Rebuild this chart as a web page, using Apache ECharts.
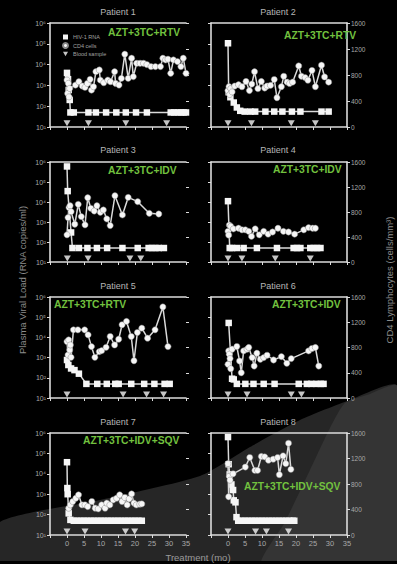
<!DOCTYPE html>
<html><head><meta charset="utf-8">
<script src="https://cdn.jsdelivr.net/npm/echarts@6/dist/echarts.min.js"></script>
<style>html,body{margin:0;padding:0;background:#000}#c{width:397px;height:564px}</style>
</head><body><div id="c"></div>
<script>
// ---------------- DATA ----------------
const patientTitles = ['Patient 1','Patient 2','Patient 3','Patient 4','Patient 5','Patient 6','Patient 7','Patient 8'];
const regimens = ['AZT+3TC+RTV','AZT+3TC+RTV','AZT+3TC+IDV','AZT+3TC+IDV','AZT+3TC+RTV','AZT+3TC+IDV','AZT+3TC+IDV+SQV','AZT+3TC+IDV+SQV'];
const legendNames = ['HIV-1 RNA','CD4 cells','Blood sample'];
const xTitle = 'Treatment (mo)';
const yLeftTitle = 'Plasma Viral Load (RNA copies/ml)';
const yRightTitle = 'CD4 Lymphocytes (cells/mm\u00B3)';
const monthTicks = [-5,0,5,10,15,20,25,30,35];
const rnaTicks = [10,100,1000,10000,100000,1000000];
const cd4Ticks = [0,400,800,1200,1600];

// HIV-1 RNA (copies/ml) [month, value]
const rnaP1 = [[0,4000],[0.3,2000],[0.5,600],[0.8,200],[1,50],[2,50],[6.3,50],[8.5,50],[11.5,50],[14.5,50],[17.3,50],[20.3,50],[23.5,50],[30.5,50],[31.5,50],[32.5,50],[33.5,50],[34.3,50],[35,50]];
const rnaP2 = [[0,106000],[0.2,470],[0.7,270],[1.7,150],[2.6,87],[3.6,60],[4.9,55],[6.6,55],[8,55],[11,55],[13.6,55],[16,55],[18.8,55],[21.3,55],[27.5,55],[29.6,55]];
const rnaP3 = [[0,600000],[0.2,35000],[1.2,300],[1.6,50],[3.5,50],[6,50],[8.8,50],[11.8,50],[16.3,50],[20.8,50],[24,50],[25,50],[26,50],[27,50],[28.5,50]];
const rnaP4 = [[0,11000],[0.5,50],[1.2,50],[2.6,50],[4.6,50],[8.5,50],[14.4,50],[19.3,50],[20.3,50],[21.3,50],[24.2,50],[25.2,50],[26.2,50],[27.2,50]];
const rnaP5 = [[0,760],[0.4,430],[1.2,290],[2.2,240],[3.5,160],[5.7,50],[8.9,50],[11.7,50],[14.2,50],[15.2,50],[18.9,50],[22.7,50],[25.7,50],[28.7,50],[30.2,50]];
const rnaP6 = [[0.2,52000],[1.2,90],[1.7,83],[2.6,50],[5.1,50],[7.5,50],[10.5,50],[13.7,50],[20.8,50],[23.2,50],[24.5,50],[26,50],[27.3,50],[28.1,50]];
const rnaP7 = [[0,37000],[0.1,2000],[0.2,1000],[0.5,115],[1,55],[2,50],[3,50],[4,50],[5,50],[6,50],[7,50],[8,50],[9,50],[10,50],[11,50],[12,50],[13,50],[14,50],[15,50],[16,50],[17,50],[18,50],[19,50],[20,50],[21,50],[22,50]];
const rnaP8 = [[0,630000],[0.2,29500],[0.5,9300],[1,3000],[1.5,1600],[1.7,500],[2.2,400],[2.5,75],[3,50],[4,50],[5,50],[6,50],[7,50],[8,50],[9,50],[10,50],[11,50],[12,50],[13,50],[14,50],[15,50],[16,50],[17,50],[18,50],[19,50],[19.5,50]];

// CD4 cells (cells/mm3) [month, value]
const cd4P1 = [[0,722],[0.2,516],[0.4,671],[0.6,464],[0.8,593],[2.5,645],[3.5,697],[4.5,630],[5.3,609],[6,670],[6.8,733],[7.2,567],[7.8,619],[8.5,851],[9.5,877],[9.8,722],[10.8,681],[12,722],[12.8,697],[14,851],[14.3,670],[15.3,645],[16,748],[17,1120],[18,748],[19,1058],[19.5,774],[20.5,980],[21.5,980],[22.5,980],[23.5,960],[24.7,929],[26,929],[27.5,929],[28.2,1058],[29,1032],[29.7,1043],[30.5,826],[31.3,1032],[32.5,1006],[33.5,929],[34.2,1058],[35,826]];
const cd4P2 = [[0,560],[0.3,620],[0.5,500],[0.8,590],[1.2,540],[2,630],[3.1,650],[4.1,620],[5.3,700],[6.3,560],[7,660],[7.8,850],[8.8,590],[9.8,700],[10.8,600],[11.5,630],[12.5,640],[13.6,730],[14.4,450],[15.7,620],[16.4,780],[17.4,690],[18.1,670],[19,690],[20.8,940],[21.6,780],[22.7,760],[23.5,720],[24.7,870],[25.7,620],[27.5,950],[28.4,770],[29.6,690]];
const cd4P3 = [[0,435],[0.3,710],[0.6,870],[0.9,900],[1.2,805],[2.3,604],[3.3,922],[4.2,726],[5.3,594],[6.1,1028],[7,859],[8,816],[8.8,900],[9.8,795],[10.7,832],[11.7,689],[12.7,583],[14.1,1060],[16.3,753],[18,1033],[20.8,965],[24.2,779],[27,768]];
const cd4P4 = [[0,490],[0.2,430],[0.4,590],[0.8,570],[1.6,530],[3.1,540],[4.1,515],[5.1,515],[6.1,490],[6.9,410],[8,530],[9.2,435],[10.5,490],[11.8,445],[13.1,480],[14.7,540],[16.3,490],[17.8,480],[19.6,445],[22.3,515],[23.7,550],[24.9,540],[25.7,540]];
const cd4P5 = [[0,894],[0.3,681],[0.5,920],[0.8,761],[1,840],[1.2,644],[1.9,1080],[3.2,1080],[5.2,1080],[6.2,1000],[7.2,814],[8.2,644],[9.5,734],[10.2,750],[11.5,803],[12.7,974],[14,840],[15.2,931],[16.2,1160],[17.5,1213],[18.9,974],[19.7,590],[20.7,1037],[22,1106],[23.7,947],[25.9,1080],[28.2,1442],[29.7,814]];
const cd4P6 = [[0,533],[0.2,746],[0.4,693],[0.6,624],[0.8,464],[1.2,773],[2.6,815],[3.4,586],[3.9,400],[4.6,746],[5.6,773],[6.1,800],[7.1,640],[7.7,506],[8.5,709],[9.5,613],[10.5,640],[11.5,677],[13.4,602],[15.7,656],[17.3,549],[18.6,624],[23.7,746],[24.7,784],[25.7,800],[26.7,506]];
const cd4P7 = [[0.5,420],[1,472],[1.7,525],[2.6,577],[3.4,630],[4.4,472],[5.3,472],[6.1,446],[7.3,525],[8.3,420],[9.2,410],[10.2,472],[11.2,420],[11.7,500],[12.6,472],[13.6,551],[14.6,577],[15.5,630],[16.2,525],[17,588],[17.7,472],[18.3,567],[19,645],[19.7,500],[20.4,472],[21.4,483],[22,488]];
const cd4P8 = [[0,1120],[0.2,600],[0.4,920],[0.6,860],[1.5,960],[5.1,1066],[6.4,1215],[7.9,1013],[8.7,1013],[9.8,1232],[10.8,1226],[11.9,1173],[13.3,1189],[14.6,1215],[15.1,946],[16.2,1242],[17,1119],[17.8,1439],[18.5,1029]];

// Blood sample months
const bloodP1 = [0,6.3,17.3,29.3];
const bloodP2 = [0,6.9,18.6,25.7];
const bloodP3 = [0.1,6.2,18.5,21.7];
const bloodP4 = [0,4.1,13.9,24.2];
const bloodP5 = [0,16.5,23.4,28.4];
const bloodP6 = [0,5.6,18.6,21.6];
const bloodP7 = [0,5.3,17.2,19.9];
const bloodP8 = [0,8.1,11.3,17.8];

// ---------------- LAYOUT / STYLE ----------------
const rnaAll = [rnaP1,rnaP2,rnaP3,rnaP4,rnaP5,rnaP6,rnaP7,rnaP8];
const cd4All = [cd4P1,cd4P2,cd4P3,cd4P4,cd4P5,cd4P6,cd4P7,cd4P8];
const bloodAll = [bloodP1,bloodP2,bloodP3,bloodP4,bloodP5,bloodP6,bloodP7,bloodP8];
const bloodLevel = 15;
const colLeft = [50, 211];
const gridW = 136;
const rowTop = [23, 162, 297, 433];
const rowH = [104, 100, 101, 102];
const titleX = [118, 278];
const titleY = [12, 150, 286, 422];
const regimenPos = [[108,32],[284,35],[108,170],[273,169],[54,304],[272,304],[83,440],[244,486]];
const FONT = '"Liberation Sans", Arial, sans-serif';
const AX = '#dcdcdc';
const sup = ['\u2070','\u00B9','\u00B2','\u00B3','\u2074','\u2075','\u2076'];

const grids = [], xAxes = [], yAxes = [], series = [], graphics = [];

// background shapes
graphics.push({type:'polygon', z:-20, silent:true,
  shape:{points:[[0,522],[100,500],[200,476],[250,447],[300,420],[350,400],[397,386],[397,564],[0,564]], smooth:0.2},
  style:{fill:'#262626'}});
graphics.push({type:'polygon', z:-19, silent:true,
  shape:{points:[[262,564],[285,522],[310,470],[330,428],[345,403],[370,394],[397,386],[397,564]], smooth:0.2},
  style:{fill:'#343434'}});
graphics.push({type:'rect', z:-18, silent:true, shape:{x:0,y:561,width:397,height:3}, style:{fill:'#000'}});

for (let i = 0; i < 8; i++) {
  const col = i % 2, row = Math.floor(i / 2);
  grids.push({left: colLeft[col], top: rowTop[row], width: gridW, height: rowH[row], containLabel:false});
  // bottom axis (index 2i)
  xAxes.push({gridIndex:i, type:'value', position:'bottom', min:monthTicks[0], max:monthTicks[monthTicks.length-1], interval:5,
    axisLine:{show:true, onZero:false, lineStyle:{color:AX, width:1.6}},
    axisTick:{show:true, length:3, lineStyle:{color:AX, width:1}},
    axisLabel:{show: row===3, color:'#a8a8a8', fontSize:7.5, fontFamily:FONT, margin:4,
      formatter: v => (v < 0 ? '' : String(v))},
    splitLine:{show:false}});
  // top frame line (index 2i+1)
  xAxes.push({gridIndex:i, type:'value', position:'top', min:monthTicks[0], max:monthTicks[monthTicks.length-1],
    axisLine:{show:true, onZero:false, lineStyle:{color:AX, width:1.6}}, axisTick:{show:false}, axisLabel:{show:false}, splitLine:{show:false}});
  yAxes.push({gridIndex:i, type:'log', logBase:10, min:rnaTicks[0], max:rnaTicks[rnaTicks.length-1], splitNumber:5, position:'left',
    axisLine:{show:true, onZero:false, lineStyle:{color:AX, width:1.6}},
    axisTick:{show:true, length:3, lineStyle:{color:AX, width:1}},
    axisLabel:{show: col===0, color:'#a8a8a8', fontSize:7, fontFamily:FONT, margin:4,
      formatter: v => '10' + sup[Math.round(Math.log10(v))]},
    splitLine:{show:false}, minorTick:{show:false}});
  yAxes.push({gridIndex:i, type:'value', min:cd4Ticks[0], max:cd4Ticks[cd4Ticks.length-1], interval:400, position:'right',
    axisLine:{show: col===1, onZero:false, lineStyle:{color:AX, width:1.6}},
    axisTick:{show:true, length:3, lineStyle:{color:AX, width:1}},
    axisLabel:{show: col===1, color:'#a8a8a8', fontSize:6.5, fontFamily:FONT, margin:4, formatter: v => String(v)},
    splitLine:{show:false}});
  series.push({type:'line', name:legendNames[0], xAxisIndex:2*i, yAxisIndex:2*i, data:rnaAll[i],
    symbol:'rect', symbolSize:6.5, showAllSymbol:true, animation:false, z:3,
    lineStyle:{color:'#dadada', width:1.5}, itemStyle:{color:'#f6f6f6'}});
  series.push({type:'line', name:legendNames[1], xAxisIndex:2*i, yAxisIndex:2*i+1, data:cd4All[i],
    symbol:'circle', symbolSize:6.2, showAllSymbol:true, animation:false, z:4,
    lineStyle:{color:'#dadada', width:1.5}, itemStyle:{color:'#f6f6f6', borderColor:'#888', borderWidth:0.5}});
  series.push({type:'scatter', name:legendNames[2], xAxisIndex:2*i, yAxisIndex:2*i, data:bloodAll[i].map(m => [m, bloodLevel]),
    symbol:'triangle', symbolRotate:180, symbolSize:[7,6], animation:false, z:4, itemStyle:{color:'#f6f6f6'}});
  graphics.push({type:'text', x:titleX[col], y:titleY[row], silent:true,
    style:{text:patientTitles[i], fill:'#b5b5b5', font:'9px ' + FONT, textAlign:'center', textVerticalAlign:'middle', align:'center', verticalAlign:'middle'}});
  graphics.push({type:'text', x:regimenPos[i][0], y:regimenPos[i][1], silent:true, z:10,
    style:{text:regimens[i], fill:'#72c13f', font:'bold 10.3px ' + FONT, textAlign:'left', textVerticalAlign:'middle', align:'left', verticalAlign:'middle'}});
}

graphics.push({type:'text', x:22, y:280, rotation:Math.PI/2, silent:true,
  style:{text:yLeftTitle, fill:'#8c8c8c', font:'9.5px ' + FONT, textAlign:'center', textVerticalAlign:'middle', align:'center', verticalAlign:'middle'}});
graphics.push({type:'text', x:389, y:280, rotation:Math.PI/2, silent:true,
  style:{text:yRightTitle, fill:'#8c8c8c', font:'9.5px ' + FONT, textAlign:'center', textVerticalAlign:'middle', align:'center', verticalAlign:'middle'}});
graphics.push({type:'text', x:198, y:557, silent:true,
  style:{text:xTitle, fill:'#9a9a9a', font:'9.5px ' + FONT, textAlign:'center', textVerticalAlign:'middle', align:'center', verticalAlign:'middle'}});

const chart = echarts.init(document.getElementById('c'), null, {renderer:'svg'});
chart.setOption({
  backgroundColor:'#000',
  animation:false,
  grid:grids, xAxis:xAxes, yAxis:yAxes, series:series,
  legend:{show:true, orient:'vertical', left:57, top:29, itemWidth:5, itemHeight:5, itemGap:2, selectedMode:false,
    textStyle:{color:'#a0a0a0', fontSize:5.5, fontFamily:FONT},
    data:[{name:legendNames[0], icon:'rect'},{name:legendNames[1], icon:'circle'},{name:legendNames[2], icon:'path://M0,0L10,0L5,9Z'}]},
  graphic:{elements:graphics}
});
</script></body></html>
